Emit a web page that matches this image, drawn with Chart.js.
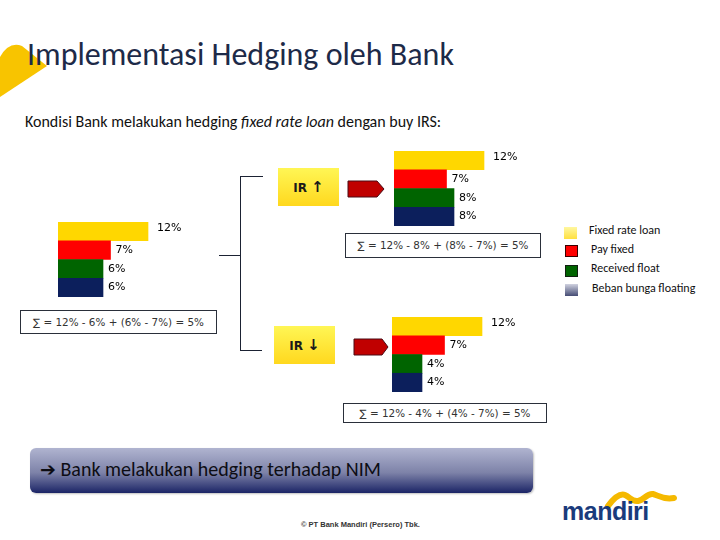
<!DOCTYPE html>
<html>
<head>
<meta charset="utf-8">
<script src="https://cdn.jsdelivr.net/npm/chart.js@4.4.1/dist/chart.umd.min.js"></script>
<style>
  body { margin: 0; width: 720px; height: 540px; background: #fff; position: relative; overflow: hidden; font-family: Carlito, Lato, sans-serif; }
  .abs { position: absolute; }
  #title { left: 27px; top: 35px; font-size: 32px; color: #1d2a48; white-space: nowrap; }
  #subtitle { left: 25px; top: 112px; font-size: 16px; color: #111; white-space: nowrap; }
  .sumbox { border: 1px solid #2a2f3a; background: #fff; font-family: "DejaVu Sans", sans-serif; font-size: 10.4px; color: #333; text-align: center; box-sizing: border-box; white-space: nowrap; }
  .irbox { background: linear-gradient(#fff655, #ffd81e); font-family: "DejaVu Sans", sans-serif; font-weight: bold; font-size: 12px; color: #1a1a1a; text-align: center; box-sizing: border-box; }
  .line { background: #1b2233; }
  .sw { width: 13px; height: 12px; box-sizing: border-box; }
  .lg { font-size: 12px; color: #111; white-space: nowrap; }
  #nim { left: 30px; top: 448px; width: 503px; height: 45px; border-radius: 6px; background: linear-gradient(#b0b4d0, #7d82a8 55%, #1b2466); box-shadow: 1px 1px 2px rgba(0,0,0,0.25); }
  #nimtext { left: 40px; top: 457px; font-size: 20px; color: #0d0d14; white-space: nowrap; }
  #footer { left: 301px; top: 520px; font-family: "Liberation Sans Narrow", "Liberation Sans", sans-serif; font-size: 7.5px; font-weight: bold; color: #333; white-space: nowrap; }
  #logo { left: 562px; top: 497px; font-family: "Liberation Sans", sans-serif; font-weight: bold; font-size: 25px; color: #1a3b7c; letter-spacing: -0.5px; }
</style>
</head>
<body>
<script>
// rates (%) for each bar group
const categories = ['Fixed rate loan', 'Pay fixed', 'Received float', 'Beban bunga floating'];
const awalValues = [12, 7, 6, 6];
const irNaikValues = [12, 7, 8, 8];
const irTurunValues = [12, 7, 4, 4];
const barColors = ['#ffd700', '#ff0000', '#006400', '#0c1f5c'];
</script>

<svg class="abs" style="left:0;top:0" width="60" height="110">
  <path d="M0,57 Q9,41 22,46 L47,66 L0,97 Z" fill="#f8c400"/>
</svg>
<div id="title" class="abs">Implementasi Hedging oleh Bank</div>
<div id="subtitle" class="abs">Kondisi Bank melakukan hedging <i>fixed rate loan</i> dengan buy IRS:</div>

<canvas id="cAwal" class="abs" width="150" height="75" style="left:58px;top:222px"></canvas>
<canvas id="cNaik" class="abs" width="150" height="75" style="left:394px;top:151px"></canvas>
<canvas id="cTurun" class="abs" width="150" height="75" style="left:392px;top:317px"></canvas>

<div class="abs sumbox" style="left:20px;top:310px;width:197px;height:24px;line-height:22px">∑ = 12% - 6% + (6% - 7%) = 5%</div>
<div class="abs sumbox" style="left:345px;top:233px;width:196px;height:25px;line-height:23px">∑ = 12% - 8% + (8% - 7%) = 5%</div>
<div class="abs sumbox" style="left:343px;top:403px;width:204px;height:20px;line-height:18px">∑ = 12% - 4% + (4% - 7%) = 5%</div>

<div class="abs line" style="left:219px;top:255px;width:22px;height:1px"></div>
<div class="abs line" style="left:240px;top:176px;width:1px;height:175px"></div>
<div class="abs line" style="left:240px;top:176px;width:23px;height:1px"></div>
<div class="abs line" style="left:240px;top:350px;width:22px;height:1px"></div>

<div class="abs irbox" style="left:278px;top:168px;width:61px;height:38px;line-height:38px">IR <span style="font-size:15px">↑</span></div>
<div class="abs irbox" style="left:274px;top:326px;width:61px;height:38px;line-height:38px">IR <span style="font-size:15px">↓</span></div>

<svg class="abs" style="left:347px;top:180px" width="40" height="19">
  <path d="M1,1 L30,1 L37,9 L30,17 L1,17 Z" fill="#c00000" stroke="#4a0a14" stroke-width="1"/>
</svg>
<svg class="abs" style="left:353px;top:338px" width="40" height="19">
  <path d="M1,1 L29,1 L35,9 L29,17 L1,17 Z" fill="#c00000" stroke="#4a0a14" stroke-width="1"/>
</svg>

<div class="abs sw" style="left:564px;top:227px;background:linear-gradient(#fff7a0,#ffe040)"></div>
<div class="abs sw" style="left:565px;top:245px;background:#ff0000;border:1px solid #3a0000"></div>
<div class="abs sw" style="left:565px;top:265px;background:#006400;border:1px solid #102010"></div>
<div class="abs sw" style="left:565px;top:284px;background:linear-gradient(#d0d2e0,#454c74)"></div>
<div class="abs lg" style="left:589px;top:223px">Fixed rate loan</div>
<div class="abs lg" style="left:591px;top:242px">Pay fixed</div>
<div class="abs lg" style="left:591px;top:261px">Received float</div>
<div class="abs lg" style="left:592px;top:281px">Beban bunga floating</div>

<div id="nim" class="abs"></div>
<div id="nimtext" class="abs"><span style="font-family:'DejaVu Sans';font-weight:bold;font-size:19px">➔</span> Bank melakukan hedging terhadap NIM</div>

<div id="footer" class="abs">© PT Bank Mandiri (Persero) Tbk.</div>
<svg class="abs" style="left:600px;top:488px" width="85" height="25">
  <path d="M8,18 C14,10 20,5 25,7 C30,9 32,14 38,13 C44,12 47,5 53,6 C58,7 62,12 74,10"
        fill="none" stroke="#f5b900" stroke-width="6" stroke-linecap="round"/>
</svg>
<div id="logo" class="abs">mandiri</div>

<script>
const pctLabels = {
  id: 'pctLabels',
  afterDatasetsDraw(chart) {
    const ctx = chart.ctx;
    const meta = chart.getDatasetMeta(0);
    const vals = chart.data.datasets[0].data;
    ctx.save();
    ctx.font = '11px "DejaVu Sans", sans-serif';
    ctx.fillStyle = '#000';
    ctx.textBaseline = 'middle';
    meta.data.forEach(function (bar, i) {
      const dy = i === 0 ? -3 : 0;
      const dx = i === 0 ? 9 : 5;
      ctx.fillText(vals[i] + '%', bar.x + dx, bar.y + dy);
    });
    ctx.restore();
  }
};

function makeBars(id, values) {
  return new Chart(document.getElementById(id), {
    type: 'bar',
    data: {
      labels: categories,
      datasets: [{
        data: values,
        backgroundColor: barColors,
        borderWidth: 0,
        barPercentage: 1,
        categoryPercentage: 1
      }]
    },
    options: {
      indexAxis: 'y',
      responsive: false,
      animation: false,
      layout: { padding: 0 },
      scales: {
        x: { display: false, min: 0, max: 20 },
        y: { display: false }
      },
      plugins: {
        legend: { display: false },
        tooltip: { enabled: false }
      }
    },
    plugins: [pctLabels]
  });
}

makeBars('cAwal', awalValues);
makeBars('cNaik', irNaikValues);
makeBars('cTurun', irTurunValues);
</script>
</body>
</html>
